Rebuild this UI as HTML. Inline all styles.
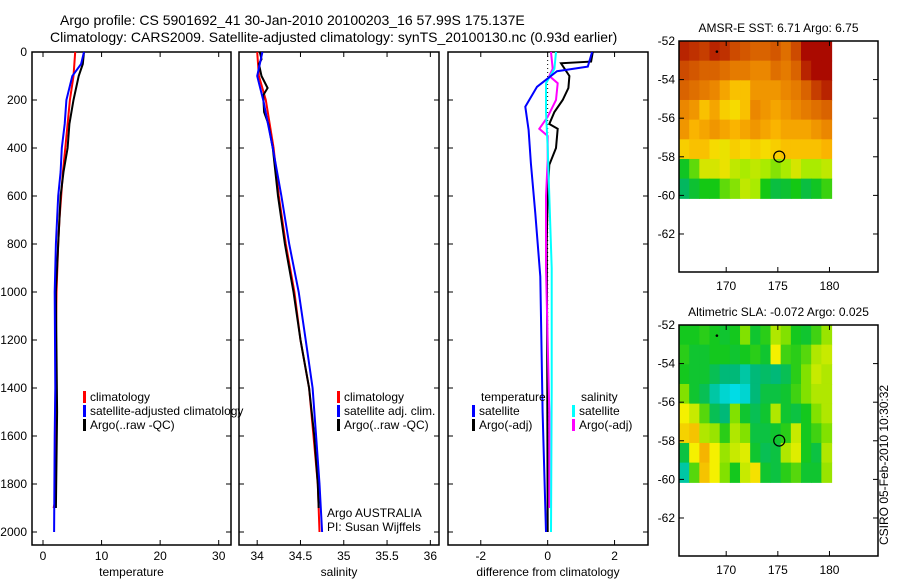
<!DOCTYPE html>
<html><head><meta charset="utf-8"><style>
body{margin:0;background:#fff}
svg text{font-family:"Liberation Sans",sans-serif;font-size:12px;fill:#000}
</style></head><body>
<svg id="c" width="900" height="580" xmlns="http://www.w3.org/2000/svg">
<text x="60" y="25" style="font-size:14px">Argo profile: CS 5901692_41 30-Jan-2010 20100203_16 57.99S 175.137E</text>
<text x="50" y="42" style="font-size:14px">Climatology: CARS2009. Satellite-adjusted climatology: synTS_20100130.nc (0.93d earlier)</text>
<text transform="translate(888,545) rotate(-90)">CSIRO 05-Feb-2010 10:30:32</text>
</svg>
<script>
// ---- data ----
const depthTicks=[0,200,400,600,800,1000,1200,1400,1600,1800,2000];
const tempTicks=[0,10,20,30];
const salTicks=[34,34.5,35,35.5,36];
const salTickLabels=["34","34.5","35","35.5","36"];
const diffTicks=[-2,0,2];
const tClimD=[0,100,200,300,400,500,600,700,800,1000,1200,1500,1800,1880,1900];
const tClimV=[5.5,5.2,4.6,4.2,3.8,3.4,3.1,2.8,2.6,2.3,2.2,2.1,2.0,2.0,1.8];
const tSatD=[0,50,100,200,300,400,500,600,800,1000,1400,1600,2000];
const tSatV=[7.0,6.5,5.0,4.0,3.7,3.2,3.0,2.6,2.2,2.0,2.1,2.0,1.9];
const tArgoD=[0,50,100,200,300,400,500,600,800,1000,1500,1900];
const tArgoV=[7.0,6.8,6.1,5.2,4.5,4.2,3.5,3.0,2.6,2.2,2.4,2.2];
const sClimD=[0,100,200,400,600,800,1000,1200,1400,1600,1800,2000];
const sClimV=[34.0,34.02,34.1,34.19,34.25,34.33,34.43,34.5,34.6,34.65,34.7,34.72];
const sSatD=[0,100,200,400,600,800,1000,1200,1400,1600,1800,2000];
const sSatV=[34.06,34.0,34.07,34.18,34.28,34.37,34.48,34.56,34.64,34.68,34.72,34.75];
const sArgoD=[0,30,50,100,150,180,250,300,400,600,800,1000,1200,1400,1600,1800,1900];
const sArgoV=[34.03,34.05,34.02,34.05,34.12,34.07,34.08,34.13,34.18,34.24,34.32,34.42,34.5,34.6,34.66,34.7,34.71];
const dTSatD=[0,61,80,145,228,325,464,672,936,1500,2000];
const dTSatV=[1.33,1.2,0.28,-0.32,-0.67,-0.57,-0.5,-0.37,-0.22,-0.15,-0.05];
const dTArgoD=[0,40,47,100,150,200,250,300,320,400,470,600,800,1000,2000];
const dTArgoV=[1.35,1.3,0.4,0.65,0.62,0.45,0.2,0.05,0.3,0.25,0.05,0.0,-0.03,-0.02,0.0];
const dSSatD=[0,70,130,250,400,600,900,1400,2000];
const dSSatV=[0.25,0.2,-0.05,-0.05,0.0,0.05,0.12,0.12,0.1];
const dSArgoD=[0,70,100,130,200,270,320,350,450,600,900,1500,1900];
const dSArgoV=[0.1,0.15,0.05,0.3,0.25,0.0,-0.25,0.0,0.0,-0.05,-0.05,0.05,0.05];
const mapLonTicks=[170,175,180];
const mapLatTicks=[-52,-54,-56,-58,-60,-62];
const sstGrid=[
[7.8,7.7,7.6,7.8,7.7,7.5,7.4,7.3,7.3,7.4,7.2,7.5,8.0,8.0,8.0],
[7.5,7.4,7.3,7.3,7.2,7.1,7.1,7.0,7.0,7.2,7.1,7.3,7.8,8.0,8.0],
[7.3,7.2,7.1,7.0,6.8,6.6,6.6,6.9,6.9,6.9,7.0,7.1,7.3,7.6,7.8],
[7.0,6.9,6.6,6.8,6.5,6.4,6.6,7.0,6.9,6.8,6.9,7.0,7.1,7.2,7.3],
[6.9,6.7,6.8,6.9,6.8,6.7,6.8,6.9,6.8,6.7,6.8,6.8,6.8,6.9,7.0],
[6.5,6.6,6.6,6.4,6.3,6.5,6.4,6.5,6.4,6.5,6.6,6.6,6.6,6.6,6.7],
[5.5,5.8,6.2,6.2,6.3,6.1,6.0,6.1,6.0,5.9,6.0,6.2,6.0,6.0,6.1],
[5.1,5.4,5.6,5.6,5.8,5.9,6.1,6.0,5.6,5.3,5.4,5.6,5.3,5.5,5.7]];
const slaGrid=[
[-0.05,-0.05,-0.04,-0.05,-0.06,-0.05,0.0,-0.06,-0.04,0.02,0.0,-0.05,-0.06,-0.03,0.01],
[-0.04,-0.06,-0.06,-0.05,-0.05,-0.06,-0.05,-0.04,-0.06,0.05,-0.03,-0.04,-0.02,0.02,0.03],
[-0.05,-0.06,-0.06,-0.08,-0.10,-0.10,-0.12,-0.10,-0.09,-0.10,-0.08,-0.04,0.0,0.03,0.02],
[0.0,-0.06,-0.08,-0.12,-0.14,-0.15,-0.14,-0.10,-0.07,-0.07,-0.06,-0.03,0.0,0.02,0.02],
[0.05,0.03,-0.02,-0.08,-0.10,0.0,-0.06,-0.08,-0.06,0.02,-0.06,-0.07,-0.05,0.0,0.02],
[0.07,0.08,0.02,0.01,-0.04,0.02,0.0,-0.07,-0.07,-0.06,-0.04,0.03,-0.05,-0.03,0.0],
[-0.07,0.05,0.09,0.05,0.01,0.03,0.04,-0.06,-0.08,-0.07,0.02,0.04,-0.05,-0.07,0.02],
[-0.12,-0.02,0.08,0.05,0.0,-0.05,0.03,0.06,-0.06,-0.07,-0.04,-0.02,-0.06,-0.06,0.01]];
const floatLon=175.137, floatLat=-57.99;

const NS="http://www.w3.org/2000/svg";
const svg=document.getElementById('c');
function mk(tag,at,parent){const e=document.createElementNS(NS,tag);for(const k in at)e.setAttribute(k,at[k]);(parent||svg).appendChild(e);return e;}
function txt(x,y,s,anchor){const t=mk('text',{x:x,y:y,'text-anchor':anchor||'start'});t.textContent=s;return t;}

const PT=52,PB=545,D0=52,DK=0.24;
const yD=d=>D0+d*DK;
function panel(x0,x1,vmin,vmax,ticks,labels,xlabel,name){
  const xs=v=>x0+(v-vmin)/(vmax-vmin)*(x1-x0);
  const r=mk('rect',{x:x0,y:PT,width:x1-x0,height:PB-PT,fill:'none',stroke:'#000','stroke-width':1.5});
  
  
  depthTicks.forEach(d=>{mk('line',{x1:x0,x2:x0+5,y1:yD(d),y2:yD(d),stroke:'#000'});mk('line',{x1:x1-5,x2:x1,y1:yD(d),y2:yD(d),stroke:'#000'});});
  ticks.forEach((v,i)=>{const x=xs(v);mk('line',{x1:x,x2:x,y1:PT,y2:PT+5,stroke:'#000'});mk('line',{x1:x,x2:x,y1:PB-5,y2:PB,stroke:'#000'});
    const t=txt(x,560,labels[i],'middle');});
  const xl=txt((x0+x1)/2,576,xlabel,'middle');
  
  
  return xs;
}
function line(xs,D,V,color,name,w){
  const pts=D.map((d,i)=>xs(V[i]).toFixed(1)+','+yD(d).toFixed(1)).join(' ');
  const p=mk('polyline',{points:pts,fill:'none',stroke:color,'stroke-width':w||2,'stroke-linejoin':'miter'});
  
  
}
function legend(x,y,color,label,name){
  const m=mk('rect',{x:x,y:y-10,width:3,height:12,fill:color});
  const t=txt(x+7,y,label);
  
  
}
depthTicks.forEach(d=>{const t=txt(27,yD(d)+4,String(d),'end');});

const xT=panel(32,231,-1.88,32.1,tempTicks,tempTicks.map(String),'temperature','temperature-panel');
line(xT,tClimD,tClimV,'#ff0000','temp-climatology-line');
line(xT,tArgoD,tArgoV,'#000000','temp-argo-line');
line(xT,tSatD,tSatV,'#0000ff','temp-satellite-line');
legend(83,401,'#ff0000','climatology','legend-climatology');
legend(83,415,'#0000ff','satellite-adjusted climatology','legend-satellite-adjusted');
legend(83,429,'#000000','Argo(..raw -QC)','legend-argo');

const xS=panel(239,439,33.79,36.1,salTicks,salTickLabels,'salinity','salinity-panel');
line(xS,sClimD,sClimV,'#ff0000','sal-climatology-line');
line(xS,sArgoD,sArgoV,'#000000','sal-argo-line');
line(xS,sSatD,sSatV,'#0000ff','sal-satellite-line');
legend(337,401,'#ff0000','climatology','legend-sal-climatology');
legend(337,415,'#0000ff','satellite adj. clim.','legend-sal-satellite');
legend(337,429,'#000000','Argo(..raw -QC)','legend-sal-argo');
let t1=txt(327,517,'Argo AUSTRALIA');
let t2=txt(327,531,'PI: Susan Wijffels');

const xDf=panel(448,648,-2.98,3.0,diffTicks,diffTicks.map(String),'difference from climatology','difference-panel');
mk('line',{x1:xDf(0),x2:xDf(0),y1:yD(0),y2:yD(2000),stroke:'#000','stroke-dasharray':'1,3'});
line(xDf,dTArgoD,dTArgoV,'#000000','diff-temp-argo-line');
line(xDf,dSArgoD,dSArgoV,'#ff00ff','diff-sal-argo-line');
line(xDf,dSSatD,dSSatV,'#00ffff','diff-sal-satellite-line');
line(xDf,dTSatD,dTSatV,'#0000ff','diff-temp-satellite-line');
let t3=txt(481,401,'temperature');
let t4=txt(581,401,'salinity');
legend(472,415,'#0000ff','satellite','legend-diff-temp-satellite');
legend(472,429,'#000000','Argo(-adj)','legend-diff-temp-argo');
legend(572,415,'#00ffff','satellite','legend-diff-sal-satellite');
legend(572,429,'#ff00ff','Argo(-adj)','legend-diff-sal-argo');

function lerpColor(stops,v){
  if(v<=stops[0][0])return 'rgb('+stops[0][1].join(',')+')';
  for(let i=1;i<stops.length;i++){if(v<=stops[i][0]){const a=stops[i-1],b=stops[i],f=(v-a[0])/(b[0]-a[0]);
    return 'rgb('+a[1].map((c,j)=>Math.round(c+(b[1][j]-c)*f)).join(',')+')';}}
  return 'rgb('+stops[stops.length-1][1].join(',')+')';
}
const sstStops=[[5.0,[0,180,110]],[5.6,[20,200,20]],[6.0,[170,235,0]],[6.35,[245,225,0]],[6.7,[250,180,0]],[7.0,[235,135,0]],[7.5,[205,75,0]],[8.0,[170,10,0]]];
const slaStops=[[-0.2,[0,120,255]],[-0.15,[0,220,230]],[-0.1,[0,185,120]],[-0.05,[20,200,30]],[0.0,[130,225,0]],[0.05,[245,240,0]],[0.1,[245,165,0]]];
function map(top,grid,stops,title,name){
  const L=679,R=878,B=top+231,lon0=165.43,lon1=184.7,lat0=-52,lat1=-63.97;
  const xm=lo=>L+(lo-lon0)/(lon1-lon0)*(R-L);
  const ym=la=>top+(la-lat0)/(lat1-lat0)*(B-top);
  const g=mk('g',{});
  
  
  const nr=grid.length,nc=grid[0].length,lonE=180.2,latE=-60.15;
  const cw=(xm(lonE)-L)/nc,ch=(ym(latE)-top)/nr;
  grid.forEach((row,i)=>row.forEach((v,j)=>{
    const c=mk('rect',{x:(L+j*cw).toFixed(2),y:(top+i*ch).toFixed(2),width:(cw+0.6).toFixed(2),height:(ch+0.6).toFixed(2),fill:lerpColor(stops,v)},g);
    
    
  }));
  mk('rect',{x:L,y:top,width:R-L,height:B-top,fill:'none',stroke:'#000','stroke-width':1.5});
  mapLonTicks.forEach(lo=>{const x=xm(lo);mk('line',{x1:x,x2:x,y1:top,y2:top+5,stroke:'#000'});mk('line',{x1:x,x2:x,y1:B-5,y2:B,stroke:'#000'});
    const t=txt(x,B+18,String(lo),'middle');});
  mapLatTicks.forEach(la=>{const y=ym(la);mk('line',{x1:L,x2:L+5,y1:y,y2:y,stroke:'#000'});mk('line',{x1:R-5,x2:R,y1:y,y2:y,stroke:'#000'});
    const t=txt(L-4,y+4,String(la),'end');});
  const m=mk('circle',{cx:xm(floatLon),cy:ym(floatLat),r:5.5,fill:'none',stroke:'#000','stroke-width':1.2});
  
  
  mk('circle',{cx:xm(169.1),cy:ym(-52.55),r:1.3,fill:'#000'});
  const tt=txt((L+R)/2,top-9,title,'middle');
  
  
}
map(41,sstGrid,sstStops,'AMSR-E SST: 6.71 Argo: 6.75','sst');
map(325,slaGrid,slaStops,'Altimetric SLA: -0.072 Argo: 0.025','sla');
</script>
</body></html>
